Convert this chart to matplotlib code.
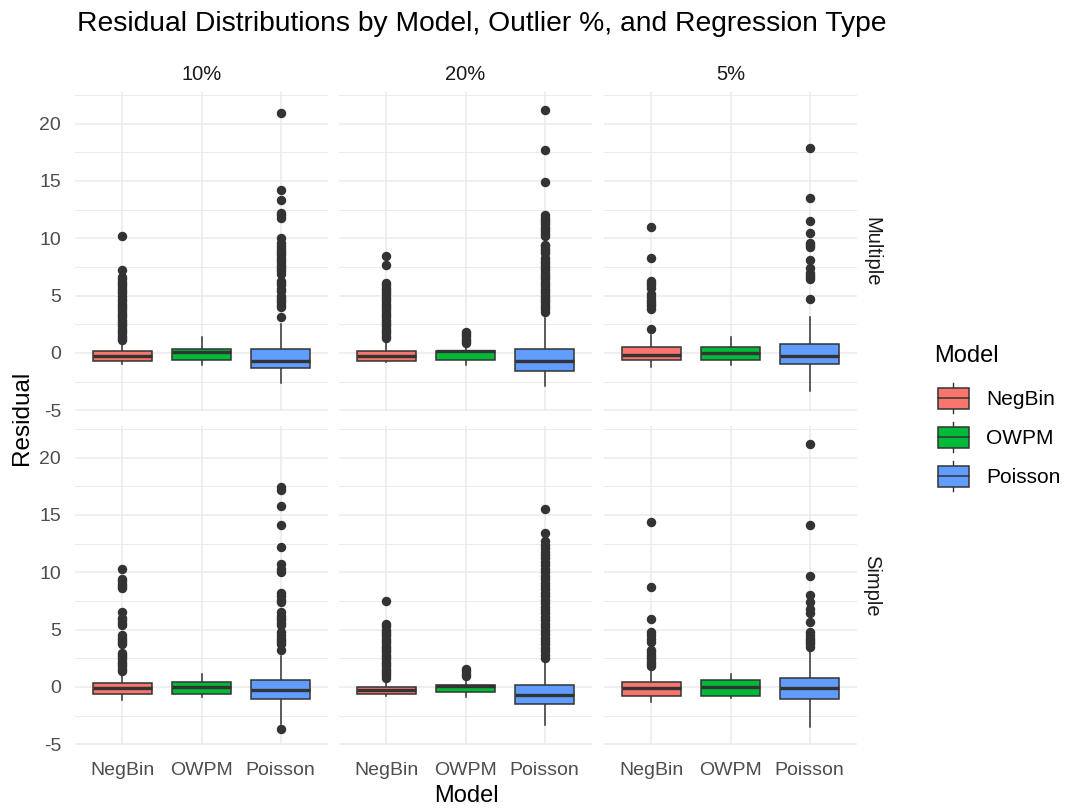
import numpy as np
import matplotlib
matplotlib.use("Agg")
import matplotlib.pyplot as plt
from matplotlib.patches import Rectangle

plt.rcParams['font.family'] = ['Liberation Sans', 'DejaVu Sans']

# Categories
models = ["NegBin", "OWPM", "Poisson"]
pcts = ["10%", "20%", "5%"]
reg_types = ["Multiple", "Simple"]
colors = ["#F8766D", "#00BA38", "#619CFF"]

# Box statistics, indexed [reg_type][pct][model]
q1 = [[[-0.75, -0.60, -1.32], [-0.75, -0.60, -1.60], [-0.60, -0.60, -0.98]],
      [[-0.63, -0.63, -1.06], [-0.63, -0.49, -1.49], [-0.77, -0.77, -1.06]]]
med = [[[-0.23, 0.10, -0.69], [-0.23, 0.12, -0.69], [-0.15, 0.02, -0.23]],
       [[-0.11, 0.00, -0.26], [-0.29, 0.05, -0.69], [-0.06, 0.00, -0.11]]]
q3 = [[[0.20, 0.32, 0.32], [0.20, 0.20, 0.32], [0.49, 0.49, 0.78]],
      [[0.32, 0.46, 0.63], [0.00, 0.17, 0.17], [0.46, 0.57, 0.75]]]
whislo = [[[-0.95, -1.10, -2.60], [-0.80, -1.10, -2.90], [-1.24, -1.10, -3.30]],
          [[-1.15, -0.86, -3.20], [-0.83, -0.86, -3.35], [-1.29, -0.97, -3.50]]]
whishi = [[[1.03, 1.35, 2.56], [1.03, 0.70, 3.00], [1.55, 1.35, 3.10]],
          [[1.23, 1.15, 2.66], [0.66, 0.66, 2.38], [1.52, 1.15, 3.15]]]

# Outliers
mult_10_negbin = [1.1, 1.3, 1.5, 1.7, 1.9, 2.1, 2.3, 2.5, 2.7, 2.9, 3.1, 3.3, 3.5,
                  3.7, 3.9, 4.1, 4.3, 4.5, 4.7, 5.0, 5.2, 5.4, 5.6, 5.8, 6.0, 6.2,
                  6.4, 6.6, 7.2, 10.2]
mult_10_owpm = []
mult_10_poisson = [3.1, 4.0, 4.2, 4.4, 4.6, 4.8, 5.0, 5.4, 5.6, 5.9, 6.1, 6.3, 6.9,
                   7.1, 7.3, 7.5, 7.7, 7.9, 8.1, 8.3, 8.5, 8.7, 8.9, 9.1, 9.3, 9.6,
                   10.0, 11.75, 12.0, 12.2, 13.3, 14.2, 20.9]
mult_20_negbin = [1.3, 1.5, 1.7, 1.9, 2.1, 2.3, 2.5, 2.7, 2.9, 3.1, 3.3, 3.5, 3.7,
                  3.9, 4.1, 4.3, 4.5, 4.7, 4.9, 5.1, 5.3, 5.5, 5.7, 5.9, 6.1,
                  7.7, 8.45]
mult_20_owpm = [0.85, 1.05, 1.25, 1.45, 1.65, 1.8]
mult_20_poisson = [3.6, 3.8, 4.0, 4.2, 4.4, 4.6, 4.8, 5.0, 5.2, 5.4, 5.6, 5.8, 6.0,
                   6.2, 6.4, 6.6, 6.8, 7.0, 7.2, 7.4, 7.6, 7.8, 8.0, 8.3, 8.7, 8.9,
                   9.1, 9.3, 9.45, 10.2, 10.4, 10.6, 10.8, 11.0, 11.2, 11.4, 11.6,
                   11.8, 12.0, 14.9, 17.7, 21.15]
mult_5_negbin = [2.1, 3.85, 4.05, 4.25, 4.45, 4.65, 4.85, 5.1, 5.7, 5.9, 6.1, 6.3,
                 8.3, 10.95]
mult_5_owpm = []
mult_5_poisson = [4.7, 6.4, 6.6, 6.8, 7.0, 7.4, 8.1, 9.2, 9.4, 9.6, 10.45, 11.5,
                  13.5, 17.9]
simp_10_negbin = [1.4, 1.6, 1.8, 2.0, 2.2, 2.4, 2.6, 2.8, 2.95, 3.7, 3.9, 4.1, 4.3,
                  4.5, 5.4, 5.6, 5.8, 6.0, 6.5, 8.6, 8.8, 9.0, 9.2, 9.4, 10.3]
simp_10_owpm = []
simp_10_poisson = [-3.7, 3.25, 3.7, 3.9, 4.1, 4.3, 4.5, 4.8, 5.4, 5.6, 5.8, 6.0,
                   6.2, 6.5, 7.4, 7.6, 7.9, 8.2, 10.0, 10.25, 10.75, 12.2, 14.1,
                   15.8, 17.2, 17.4]
simp_20_negbin = [0.8, 1.0, 1.2, 1.4, 1.6, 1.8, 2.0, 2.2, 2.4, 2.6, 2.8, 3.0, 3.2,
                  3.4, 3.6, 3.8, 4.0, 4.2, 4.4, 4.6, 4.8, 5.0, 5.3, 5.5, 7.5]
simp_20_owpm = [0.95, 1.15, 1.35, 1.55]
simp_20_poisson = [2.5, 2.8, 3.1, 3.4, 3.7, 4.0, 4.3, 4.6, 4.9, 5.2, 5.5, 5.8, 6.1,
                   6.4, 6.7, 7.0, 7.3, 7.6, 7.9, 8.2, 8.5, 8.8, 9.1, 9.4, 9.7, 10.0,
                   10.3, 10.6, 10.9, 11.2, 11.5, 11.8, 12.1, 12.4, 12.7, 13.4, 15.5]
simp_5_negbin = [1.8, 2.0, 2.2, 2.4, 2.6, 2.8, 3.0, 3.2, 3.95, 4.2, 4.5, 4.8,
                 5.95, 8.7, 14.4]
simp_5_owpm = []
simp_5_poisson = [3.5, 3.7, 3.9, 4.1, 4.3, 4.5, 4.8, 5.7, 6.4, 6.8, 7.4, 8.0, 9.7,
                  14.1, 21.2]

fliers = [
    [[mult_10_negbin, mult_10_owpm, mult_10_poisson],
     [mult_20_negbin, mult_20_owpm, mult_20_poisson],
     [mult_5_negbin, mult_5_owpm, mult_5_poisson]],
    [[simp_10_negbin, simp_10_owpm, simp_10_poisson],
     [simp_20_negbin, simp_20_owpm, simp_20_poisson],
     [simp_5_negbin, simp_5_owpm, simp_5_poisson]],
]

W, H = 1069, 809
fig = plt.figure(figsize=(W / 100, H / 100), dpi=100)
fig.patch.set_facecolor("white")

grid_col = "#EBEBEB"
dark = "#333333"
tick_col = "#4D4D4D"

# panel geometry in pixels
lefts = [75, 339, 604]
tops = [92, 426]
pw, ph = 253, 319
ylo, yhi = -5.07, 22.75

for r, reg in enumerate(reg_types):
    for c, pct in enumerate(pcts):
        ax = fig.add_axes([lefts[c] / W, 1 - (tops[r] + ph) / H, pw / W, ph / H])
        ax.set_facecolor("white")
        stats = []
        for m in range(3):
            stats.append(dict(med=med[r][c][m], q1=q1[r][c][m], q3=q3[r][c][m],
                              whislo=whislo[r][c][m], whishi=whishi[r][c][m],
                              fliers=fliers[r][c][m]))
        bp = ax.bxp(stats, positions=[1, 2, 3], widths=0.75, patch_artist=True,
                    showcaps=False,
                    boxprops=dict(edgecolor=dark, linewidth=1.1),
                    medianprops=dict(color=dark, linewidth=2.4, solid_capstyle="butt"),
                    whiskerprops=dict(color=dark, linewidth=1.1),
                    flierprops=dict(marker="o", markerfacecolor=dark,
                                    markeredgecolor=dark, markersize=5.8))
        for patch, col in zip(bp["boxes"], colors):
            patch.set_facecolor(col)
        for bx in bp["boxes"]:
            bx.set_zorder(3)
        for ln in bp["medians"]:
            ln.set_zorder(4)

        ax.set_xlim(0.4, 3.6)
        ax.set_ylim(ylo, yhi)
        ax.set_xticks([1, 2, 3])
        ax.set_yticks([-5, 0, 5, 10, 15, 20])
        ax.set_yticks([-2.5, 2.5, 7.5, 12.5, 17.5, 22.5], minor=True)
        ax.grid(True, which="major", color=grid_col, linewidth=1.1)
        ax.grid(True, which="minor", axis="y", color=grid_col, linewidth=0.7)
        ax.set_axisbelow(True)
        for s in ax.spines.values():
            s.set_visible(False)
        ax.tick_params(which="both", length=0, colors=tick_col, labelsize=14)
        ax.tick_params(axis="x", pad=12)
        ax.tick_params(axis="y", pad=10)
        if r == 1:
            ax.set_xticklabels(models)
        else:
            ax.set_xticklabels([])
        if c == 0:
            ax.set_yticklabels(["-5", "0", "5", "10", "15", "20"])
        else:
            ax.set_yticklabels([])

        if r == 0:
            fig.text((lefts[c] + pw / 2) / W, 1 - 75 / H, pct, ha="center",
                     va="center", fontsize=14.5, color="#1A1A1A")
        if c == 2:
            fig.text(872 / W, 1 - (tops[r] + ph / 2) / H, reg, ha="center",
                     va="center", rotation=270, fontsize=14.5, color="#1A1A1A")

fig.text(77 / W, 1 - 24 / H, "Residual Distributions by Model, Outlier %, and Regression Type",
         ha="left", va="center", fontsize=20.3, color="black")
fig.text(22 / W, 1 - 418 / H, "Residual", rotation=90, ha="center", va="center",
         fontsize=17.5, color="black")
fig.text(466 / W, 1 - 796 / H, "Model", ha="center", va="center",
         fontsize=17, color="black")

# legend
leg = fig.add_axes([0, 0, 1, 1])
leg.set_xlim(0, W)
leg.set_ylim(H, 0)
leg.axis("off")
leg.text(934, 356, "Model", ha="left", va="center", fontsize=17, color="black")
for i, (name, col) in enumerate(zip(models, colors)):
    cy = 398 + i * 39
    leg.plot([953, 953], [cy - 15, cy + 15], color=dark, linewidth=1.0)
    leg.add_patch(Rectangle((937.5, cy - 10.5), 31, 21, facecolor=col,
                            edgecolor=dark, linewidth=1.1, zorder=3))
    leg.plot([937.5, 968.5], [cy, cy], color=dark, linewidth=1.1, zorder=4)
    leg.text(986, cy + 1, name, ha="left", va="center", fontsize=15, color="black")

fig.savefig("out.png", dpi=100)
